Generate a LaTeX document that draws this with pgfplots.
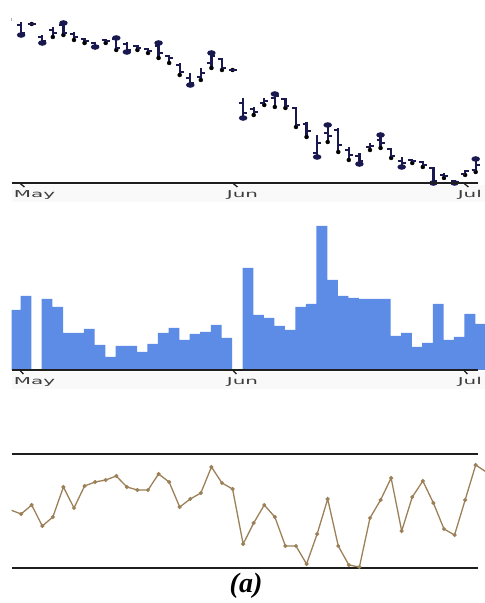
\documentclass[border=0pt]{standalone}
\usepackage{graphicx}
\usepackage{pgfplots}
\pgfplotsset{compat=1.18}
\usepackage{pgfplotstable}
\usepackage{fontspec}
\setmainfont{Liberation Serif}
\newfontfamily\labfont{DejaVu Sans}
\definecolor{ohlc}{RGB}{25,25,80}
\definecolor{vol}{RGB}{92,140,230}
\definecolor{ln}{RGB}{155,128,88}
\definecolor{axl}{RGB}{30,30,30}
\definecolor{lab}{RGB}{60,60,60}

\pgfdeclareplotmark{otick}{\pgfpathmoveto{\pgfqpoint{-4pt}{0pt}}\pgfpathlineto{\pgfqpoint{0pt}{0pt}}\pgfusepathqstroke}
\pgfdeclareplotmark{ctick}{\pgfpathmoveto{\pgfqpoint{0pt}{0pt}}\pgfpathlineto{\pgfqpoint{4pt}{0pt}}\pgfusepathqstroke}
\pgfdeclareplotmark{blob}{\pgfpathellipse{\pgfpointorigin}{\pgfqpoint{4.3pt}{0pt}}{\pgfqpoint{0pt}{2.8pt}}\pgfusepathqfill}

\pgfplotstableread{
i lo hi o c
0 162 165 164 163
1 148 161 158 150
2 159 159 159 159
3 140 148 146 142
4 146 156 153 150
5 148 160 158 150
6 143 151 149 146
7 140 145 144 142
8 136 141 140 137
9 140 144 143 142
10 133 145 144 135
11 131 141 139 133
12 133 138 137 135
13 130 135 134 132
14 125 140 137 130
15 120 128 127 125
16 108 120 118 111
17 98 110 105 100
18 103 115 106 110
19 115 130 120 127
20 113 125 124 115
21 113 113 113 113
22 65 85 80 70
23 68 76 74 71
24 78 85 80 82
25 76 89 85 87
26 75 85 84 77
27 56 76 75 58
28 46 61 59 52
29 26 48 30 40
30 41 58 50 47
31 31 55 53 38
32 23 36 33 28
33 19 30 27 22
34 33 40 36 37
35 35 48 43 40
36 25 35 34 27
37 16 26 22 20
38 20 24 23 22
39 16 22 21 18
40 0 16 15 2
41 5 10 8 7
42 0 3 2 1
43 8 13 9 12
44 11 24 13 18
45 15 26 24 17
}\ohlcdata

\pgfplotstableread{
i y
1 148
3 140
5 160
8 136
10 145
11 131
14 140
17 98
19 130
22 65
25 89
29 26
30 58
33 19
35 48
37 16
40 0
42 0
44 24
}\blobdata

\pgfplotstableread{
i v
0 60
1 74
2 0
3 71
4 63
5 37
6 37
7 41
8 25
9 13
10 24
11 24
12 18
13 26
14 37
15 42
16 30
17 36
18 38
19 45
20 32
21 0
22 102
23 55
24 52
25 44
26 40
27 63
28 66
29 144
30 90
31 74
32 72
33 71
34 71
35 71
36 34
37 37
38 23
39 27
40 66
41 30
42 33
43 56
44 46
}\voldata

\pgfplotstableread{
i v
0 58
1 54
2 63
3 42
4 51
5 81
6 60
7 82
8 86
9 88
10 92
11 81
12 78
13 78
14 94
15 86
16 61
17 69
18 75
19 101
20 85
21 79
22 24
23 45
24 63
25 51
26 22
27 22
28 4
29 34
30 69
31 22
32 3
33 1
34 50
35 68
36 90
37 37
38 71
39 87
40 65
41 39
42 33
43 68
44 103
45 96
}\linedata

\pgfplotsset{panel/.style={scale only axis, width=474pt, xmin=-0.35, xmax=44.49,
  axis lines=none, clip mode=individual, anchor=south west}}

\newcommand\mlab[2]{%
  \draw[axl, line width=1.3pt] (axis cs:#1,0) -- ++(0,-4);
  \node[anchor=base west, inner sep=0pt, text=lab, font=\labfont\fontsize{9.5}{10}\selectfont]
    at ([xshift=-6pt,yshift=-15pt]axis cs:#1,0) {\scalebox{2.1}[1]{#2}};}

\begin{document}
\begin{tikzpicture}[x=1pt,y=1pt]
\path[use as bounding box] (0,0) rectangle (485,603);

% ---------- top: OHLC ----------
\begin{axis}[panel, at={(11,420)}, height=183pt, ymin=0, ymax=183]
\fill[gray!5] (axis cs:-0.35,-2) rectangle (axis cs:44.49,-19);
\addplot[only marks, mark=none, error bars/.cd, y dir=plus, y explicit, error mark=none,
  error bar style={ohlc, line width=2.2pt}]
  table[x expr=\thisrow{i}-0.45, y=lo, y error plus expr=\thisrow{hi}-\thisrow{lo}] {\ohlcdata};
\addplot[only marks, mark=otick, ohlc, line width=2pt] table[x expr=\thisrow{i}-0.45, y=o] {\ohlcdata};
\addplot[only marks, mark=ctick, ohlc, line width=2pt] table[x expr=\thisrow{i}-0.45, y=c] {\ohlcdata};
\addplot[only marks, mark=blob, ohlc] table[x expr=\thisrow{i}-0.45, y=y] {\blobdata};
\draw[axl, line width=1.3pt] (axis cs:-0.35,0) -- (axis cs:43.74,0);
\mlab{0.41}{May}
\mlab{20.56}{Jun}
\mlab{42.41}{Jul}
\end{axis}

% ---------- middle: volume ----------
\begin{axis}[panel, at={(11,233)}, height=170pt, ymin=0, ymax=170]
\fill[gray!5] (axis cs:-0.35,-2) rectangle (axis cs:44.49,-19);
\addplot[ybar, bar width=1.02, fill=vol, draw=none] table[x=i, y=v] {\voldata};
\draw[axl, line width=1.3pt] (axis cs:-0.35,0) -- (axis cs:43.74,0);
\mlab{0.41}{May}
\mlab{20.56}{Jun}
\mlab{42.41}{Jul}
\end{axis}

% ---------- bottom: line ----------
\begin{axis}[panel, at={(11,35)}, height=114pt, ymin=0, ymax=114]
\draw[axl, line width=1.2pt] (axis cs:-0.35,0) -- (axis cs:43.74,0);
\draw[axl, line width=1.2pt] (axis cs:-0.35,114) -- (axis cs:43.74,114);
\addplot[ln, line width=1.3pt, mark=*, mark size=1.3pt, mark options={fill=ln, draw=ln}]
  table[x expr=\thisrow{i}-0.45, y=v] {\linedata};
\end{axis}

\node[font=\fontsize{28}{30}\selectfont\bfseries\itshape, inner sep=0pt] at (246,17) {(a)};
\end{tikzpicture}
\end{document}
